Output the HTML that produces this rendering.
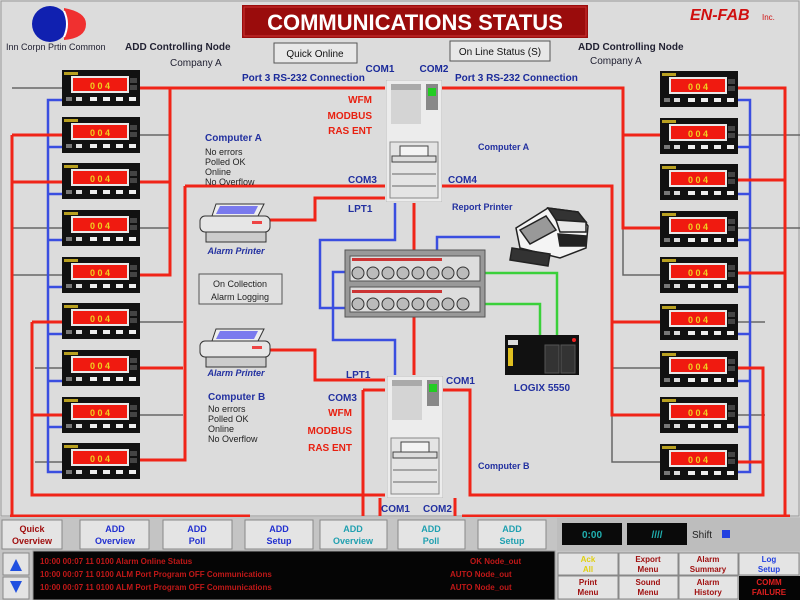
<!DOCTYPE html>
<html><head><meta charset="utf-8"><style>
html,body{margin:0;padding:0;background:#dcdcdc;}
svg{display:block;font-family:"Liberation Sans",sans-serif;}
</style></head><body>
<svg width="800" height="600" viewBox="0 0 800 600" xmlns="http://www.w3.org/2000/svg">
<defs>
<symbol id="dev" viewBox="0 0 78 36" width="78" height="36">
 <rect x="0" y="0" width="78" height="36" fill="#111"/>
 <rect x="2" y="2" width="14" height="3" fill="#b8a020"/>
 <rect x="9" y="6" width="58" height="17" fill="#e8e8e8"/>
 <rect x="11" y="8" width="54" height="13" fill="#f01a10"/>
 <rect x="68" y="8" width="7" height="5" fill="#444"/>
 <rect x="68" y="15" width="7" height="5" fill="#444"/>
 <rect x="4" y="27" width="6" height="4" fill="#777"/>
 <rect x="14" y="27" width="6" height="4" fill="#ddd"/>
 <rect x="28" y="27" width="7" height="4" fill="#eee"/>
 <rect x="41" y="27" width="7" height="4" fill="#eee"/>
 <rect x="54" y="27" width="7" height="4" fill="#eee"/>
 <rect x="67" y="27" width="7" height="4" fill="#eee"/>
</symbol>
<symbol id="srv" viewBox="0 0 56 122" width="56" height="122">
 <rect x="0" y="0" width="56" height="122" fill="#ececec" stroke="#bbb"/>
 <rect x="5" y="4" width="30" height="40" fill="#d4d4d4"/>
 <rect x="5" y="4" width="30" height="6" fill="#aaa"/>
 <rect x="40" y="4" width="12" height="26" fill="#888"/>
 <rect x="42" y="8" width="8" height="8" fill="#2c2"/>
 <rect x="4" y="62" width="48" height="56" fill="#e4e4e4" stroke="#888"/>
 <rect x="14" y="66" width="28" height="10" fill="#f4f4f4" stroke="#444"/>
 <rect x="6" y="76" width="44" height="6" fill="#ddd" stroke="#444"/>
 <line x1="6" y1="94" x2="50" y2="94" stroke="#666"/>
 <line x1="6" y1="106" x2="50" y2="106" stroke="#666"/>
</symbol>
<symbol id="prn" viewBox="0 0 74 48" width="74" height="48">
 <path d="M18 4 L66 4 L60 16 L14 16 Z" fill="#eee" stroke="#333"/>
 <path d="M22 6 L60 6 L56 14 L18 14 Z" fill="#7a7aee"/>
 <rect x="2" y="16" width="70" height="16" rx="5" fill="#e6e6e6" stroke="#333"/>
 <rect x="54" y="21" width="10" height="3" fill="#e44"/>
 <rect x="8" y="32" width="60" height="10" fill="#ccc" stroke="#333"/>
</symbol>
</defs>

<rect x="0" y="0" width="800" height="600" fill="#dcdcdc"/>
<rect x="1" y="1" width="798" height="515" fill="none" stroke="#999"/>

<!-- logo -->
<path d="M64 8 Q86 12 86 24 Q86 38 64 40 Z" fill="#f03030"/>
<circle cx="50" cy="24" r="18" fill="#1020b0"/>
<path d="M64 11 Q70 24 64 37" stroke="#fff" stroke-width="2" fill="none"/>
<text x="6" y="50" font-size="9" fill="#223">Inn Corpn Prtin Common</text>
<text x="125" y="50" font-size="10" font-weight="bold" fill="#223">ADD Controlling Node</text>
<text x="170" y="66" font-size="10" fill="#223">Company A</text>
<text x="578" y="50" font-size="10" font-weight="bold" fill="#223">ADD Controlling Node</text>
<text x="590" y="64" font-size="10" fill="#223">Company A</text>

<!-- title -->
<rect x="242" y="5" width="346" height="33" fill="#9a0c0c"/>
<rect x="244" y="7" width="342" height="29" fill="none" stroke="#c33"/>
<text x="415" y="30" font-size="22" font-weight="bold" fill="#fff" text-anchor="middle">COMMUNICATIONS STATUS</text>
<text x="690" y="20" font-size="16" font-weight="bold" font-style="italic" fill="#d01010">EN-FAB</text>
<text x="762" y="20" font-size="8" fill="#d01010">Inc.</text>

<rect x="274" y="43" width="83" height="20" fill="#e8e8e8" stroke="#555"/>
<text x="315" y="57" font-size="10" fill="#111" text-anchor="middle">Quick Online</text>
<rect x="450" y="41" width="100" height="20" fill="#e8e8e8" stroke="#555"/>
<text x="500" y="55" font-size="10" fill="#111" text-anchor="middle">On Line Status (S)</text>

<text x="380" y="72" font-size="10" font-weight="bold" fill="#1a2a9a" text-anchor="middle">COM1</text>
<text x="434" y="72" font-size="10" font-weight="bold" fill="#1a2a9a" text-anchor="middle">COM2</text>
<text x="242" y="81" font-size="10" font-weight="bold" fill="#1a2a9a">Port 3 RS-232 Connection</text>
<text x="455" y="81" font-size="10" font-weight="bold" fill="#1a2a9a">Port 3 RS-232 Connection</text>

<!-- gray wires -->
<g stroke="#666" stroke-width="1.5" fill="none">
 <path d="M62 88 H12 M62 228 H12 M62 275 H12"/>
 <path d="M139 135 H170 M139 228 H170"/>
 <path d="M139 322 H183 M139 415 H183 M62 368 H35 M62 462 H35"/>
 <path d="M623 228 V275 H660"/>
 <path d="M612 368 H660 M612 415 V462 H660"/>
 <path d="M738 135 H800 M738 228 H800 M738 322 H765 M738 415 H765"/>
</g>
<!-- blue -->
<g stroke="#3a4ee0" stroke-width="2.5" fill="none">
 <path d="M62 100 H48 V472 H62 M48 147 H62 M48 194 H62 M48 240 H62 M48 287 H62 M48 334 H62 M48 381 H62 M48 427 H62"/>
 <path d="M738 100 H750 V472 H738 M750 147 H738 M750 194 H738 M750 240 H738 M750 287 H738 M750 334 H738 M750 381 H738 M750 427 H738"/>
 <path d="M395 203 V240 H320 V308 H345"/>
 <path d="M345 272 H333 V340 H395 V375"/>
 <path d="M500 237 H437 V250"/>
</g>
<!-- green -->
<g stroke="#3ad03a" stroke-width="2.5" fill="none">
 <path d="M485 273 H557 V335"/>
 <path d="M485 304 H540 V335"/>
</g>
<!-- red -->
<g stroke="#f02418" stroke-width="3" fill="none">
 <path d="M139 88 H385"/>
 <path d="M170 88 V275 H139"/>
 <path d="M12 135 H62 M12 135 V516"/>
 <path d="M12 182 H62"/>
 <path d="M139 182 H170"/>
 <path d="M185 186 H385 M185 186 V460 H139 M183 368 H139"/>
 <path d="M32 322 H62 M32 322 V495 H385 M32 415 H62"/>
 <path d="M440 88 H623 V228 H660 M623 135 H660"/>
 <path d="M440 186 H612 V415 H660 M612 322 H660"/>
 <path d="M738 88 H785 V516 M738 180 H785 M738 273 H785"/>
 <path d="M442 390 H470 V495 H763 V368 H738 M763 462 H738"/>
 <path d="M270 220 H315 V198 H385"/>
 <path d="M270 350 H315 V380 H385"/>
 <path d="M414 203 V375"/>
 <path d="M363 390 H385 M363 390 V516"/>
 <path d="M380 498 V516 M455 498 V516"/>
 <path d="M462 516 H790"/>
 <path d="M10 516 H250"/>
</g>

<g>
 <use href="#dev" x="62" y="70"/><use href="#dev" x="62" y="117"/><use href="#dev" x="62" y="163"/>
 <use href="#dev" x="62" y="210"/><use href="#dev" x="62" y="257"/><use href="#dev" x="62" y="303"/>
 <use href="#dev" x="62" y="350"/><use href="#dev" x="62" y="397"/><use href="#dev" x="62" y="443"/>
 <use href="#dev" x="660" y="71"/><use href="#dev" x="660" y="118"/><use href="#dev" x="660" y="164"/>
 <use href="#dev" x="660" y="211"/><use href="#dev" x="660" y="257"/><use href="#dev" x="660" y="304"/>
 <use href="#dev" x="660" y="351"/><use href="#dev" x="660" y="397"/><use href="#dev" x="660" y="444"/>
</g>
<g font-size="9" font-weight="bold" fill="#f0d020" text-anchor="middle">
 <text x="100" y="89">0 0 4</text><text x="100" y="136">0 0 4</text><text x="100" y="182">0 0 4</text>
 <text x="100" y="229">0 0 4</text><text x="100" y="276">0 0 4</text><text x="100" y="322">0 0 4</text>
 <text x="100" y="369">0 0 4</text><text x="100" y="416">0 0 4</text><text x="100" y="462">0 0 4</text>
 <text x="698" y="90">0 0 4</text><text x="698" y="137">0 0 4</text><text x="698" y="183">0 0 4</text>
 <text x="698" y="230">0 0 4</text><text x="698" y="276">0 0 4</text><text x="698" y="323">0 0 4</text>
 <text x="698" y="370">0 0 4</text><text x="698" y="416">0 0 4</text><text x="698" y="463">0 0 4</text>
</g>

<use href="#srv" x="386" y="80"/>
<use href="#srv" x="387" y="376"/>

<!-- switch -->
<rect x="345" y="250" width="140" height="67" fill="#999" stroke="#555"/>
<rect x="350" y="256" width="130" height="25" fill="#ddd" stroke="#555"/>
<rect x="350" y="287" width="130" height="25" fill="#ddd" stroke="#555"/>
<g fill="#bbb" stroke="#333">
 <circle cx="358" cy="273" r="6"/><circle cx="373" cy="273" r="6"/><circle cx="388" cy="273" r="6"/><circle cx="403" cy="273" r="6"/><circle cx="418" cy="273" r="6"/><circle cx="433" cy="273" r="6"/><circle cx="448" cy="273" r="6"/><circle cx="463" cy="273" r="6"/>
 <circle cx="358" cy="304" r="6"/><circle cx="373" cy="304" r="6"/><circle cx="388" cy="304" r="6"/><circle cx="403" cy="304" r="6"/><circle cx="418" cy="304" r="6"/><circle cx="433" cy="304" r="6"/><circle cx="448" cy="304" r="6"/><circle cx="463" cy="304" r="6"/>
</g>
<rect x="352" y="258" width="90" height="3" fill="#c33"/>
<rect x="352" y="290" width="90" height="3" fill="#c33"/>

<use href="#prn" x="198" y="200"/>
<use href="#prn" x="198" y="325"/>
<text x="236" y="254" font-size="9" font-weight="bold" font-style="italic" fill="#2230a0" text-anchor="middle">Alarm Printer</text>
<text x="236" y="376" font-size="9" font-weight="bold" font-style="italic" fill="#2230a0" text-anchor="middle">Alarm Printer</text>
<rect x="199" y="274" width="83" height="30" fill="#e0e0e0" stroke="#555"/>
<text x="240" y="287" font-size="9" fill="#222" text-anchor="middle">On Collection</text>
<text x="240" y="300" font-size="9" fill="#222" text-anchor="middle">Alarm Logging</text>

<!-- report printer -->
<g stroke="#222" stroke-width="1.5">
 <path d="M516 228 L548 208 L578 212 L588 226 L586 248 L560 258 L520 248 Z" fill="#f4f4f4"/>
 <path d="M548 208 L578 212 L586 222 L556 220 Z" fill="#333"/>
 <path d="M556 220 L586 222 L586 232 L560 232 Z" fill="#e8e8e8"/>
 <path d="M558 234 L586 236 L586 246 L560 246 Z" fill="#222"/>
 <path d="M520 230 L546 216 L556 230 L530 244 Z" fill="#999"/>
 <path d="M512 248 L550 254 L548 266 L510 260 Z" fill="#333"/>
</g>
<text x="452" y="210" font-size="9" font-weight="bold" fill="#2230a0">Report Printer</text>

<!-- PLC -->
<rect x="505" y="335" width="74" height="40" fill="#111"/>
<rect x="508" y="340" width="10" height="5" fill="#ddd"/>
<rect x="508" y="348" width="5" height="18" fill="#e0c020"/>
<rect x="545" y="345" width="14" height="28" fill="#333" stroke="#555"/>
<rect x="561" y="345" width="14" height="28" fill="#333" stroke="#555"/>
<circle cx="574" cy="340" r="2" fill="#e22"/>
<text x="542" y="391" font-size="10" font-weight="bold" fill="#2230a0" text-anchor="middle">LOGIX 5550</text>

<g font-size="10" font-weight="bold">
 <text x="372" y="103" fill="#e82010" text-anchor="end">WFM</text>
 <text x="372" y="119" fill="#e82010" text-anchor="end">MODBUS</text>
 <text x="372" y="134" fill="#e82010" text-anchor="end">RAS ENT</text>
 <text x="205" y="141" fill="#2230a0">Computer A</text>
 <text x="205" y="155" fill="#222" font-weight="normal" font-size="9">No errors</text>
 <text x="205" y="165" fill="#222" font-weight="normal" font-size="9">Polled OK</text>
 <text x="205" y="175" fill="#222" font-weight="normal" font-size="9">Online</text>
 <text x="205" y="185" fill="#222" font-weight="normal" font-size="9">No Overflow</text>
 <text x="348" y="183" fill="#2230a0">COM3</text>
 <text x="448" y="183" fill="#2230a0">COM4</text>
 <text x="348" y="212" fill="#2230a0">LPT1</text>
 <text x="478" y="150" fill="#2230a0" font-size="9">Computer A</text>
 <text x="346" y="378" fill="#2230a0">LPT1</text>
 <text x="446" y="384" fill="#2230a0">COM1</text>
 <text x="328" y="401" fill="#2230a0">COM3</text>
 <text x="352" y="416" fill="#e82010" text-anchor="end">WFM</text>
 <text x="352" y="434" fill="#e82010" text-anchor="end">MODBUS</text>
 <text x="352" y="451" fill="#e82010" text-anchor="end">RAS ENT</text>
 <text x="208" y="400" fill="#2230a0">Computer B</text>
 <text x="208" y="412" fill="#222" font-weight="normal" font-size="9">No errors</text>
 <text x="208" y="422" fill="#222" font-weight="normal" font-size="9">Polled OK</text>
 <text x="208" y="432" fill="#222" font-weight="normal" font-size="9">Online</text>
 <text x="208" y="442" fill="#222" font-weight="normal" font-size="9">No Overflow</text>
 <text x="478" y="469" fill="#2230a0" font-size="9">Computer B</text>
 <text x="381" y="512" fill="#2230a0">COM1</text>
 <text x="423" y="512" fill="#2230a0">COM2</text>
</g>

<rect x="0" y="517" width="800" height="83" fill="#c4c4c4"/>
<g font-size="9" font-weight="bold" text-anchor="middle">
 <rect x="2" y="520" width="60" height="29" fill="#e4e4e4" stroke="#888"/>
 <text x="32" y="532" fill="#a01010">Quick</text><text x="32" y="544" fill="#a01010">Overview</text>
 <rect x="80" y="520" width="69" height="29" fill="#e4e4e4" stroke="#888"/>
 <text x="115" y="532" fill="#2230d0">ADD</text><text x="115" y="544" fill="#2230d0">Overview</text>
 <rect x="163" y="520" width="69" height="29" fill="#e4e4e4" stroke="#888"/>
 <text x="197" y="532" fill="#2230d0">ADD</text><text x="197" y="544" fill="#2230d0">Poll</text>
 <rect x="245" y="520" width="68" height="29" fill="#e4e4e4" stroke="#888"/>
 <text x="279" y="532" fill="#2230d0">ADD</text><text x="279" y="544" fill="#2230d0">Setup</text>
 <rect x="320" y="520" width="67" height="29" fill="#e4e4e4" stroke="#888"/>
 <text x="353" y="532" fill="#20a0b0">ADD</text><text x="353" y="544" fill="#20a0b0">Overview</text>
 <rect x="398" y="520" width="67" height="29" fill="#e4e4e4" stroke="#888"/>
 <text x="431" y="532" fill="#20a0b0">ADD</text><text x="431" y="544" fill="#20a0b0">Poll</text>
 <rect x="478" y="520" width="68" height="29" fill="#e4e4e4" stroke="#888"/>
 <text x="512" y="532" fill="#20a0b0">ADD</text><text x="512" y="544" fill="#20a0b0">Setup</text>
</g>
<rect x="557" y="518" width="243" height="33" fill="#bdbdbd"/>
<rect x="562" y="523" width="60" height="22" fill="#0a0a0a"/>
<text x="592" y="538" font-size="10" font-weight="bold" fill="#20b0b0" text-anchor="middle">0:00</text>
<rect x="627" y="523" width="60" height="22" fill="#0a0a0a"/>
<text x="657" y="538" font-size="10" font-weight="bold" fill="#20b0b0" text-anchor="middle">////</text>
<text x="692" y="538" font-size="10" fill="#222">Shift</text>
<rect x="722" y="530" width="8" height="8" fill="#2240e0"/>

<rect x="3" y="553" width="26" height="22" fill="#e4e4e4" stroke="#888"/>
<path d="M10 571 L16 559 L22 571Z" fill="#2050e0"/>
<rect x="3" y="577" width="26" height="22" fill="#e4e4e4" stroke="#888"/>
<path d="M10 581 L16 593 L22 581Z" fill="#2050e0"/>
<rect x="33" y="551" width="522" height="49" fill="#050505" stroke="#999"/>
<g font-size="8" font-weight="bold" fill="#c01818">
 <text x="40" y="564">10:00 00:07 11 0100 Alarm Online Status</text>
 <text x="40" y="577">10:00 00:07 11 0100 ALM Port Program OFF Communications</text>
 <text x="40" y="590">10:00 00:07 11 0100 ALM Port Program OFF Communications</text>
 <text x="470" y="564">OK Node_out</text>
 <text x="450" y="577">AUTO Node_out</text>
 <text x="450" y="590">AUTO Node_out</text>
</g>
<g font-size="8" font-weight="bold" text-anchor="middle">
 <rect x="558" y="553" width="60" height="22" fill="#e4e4e4" stroke="#888"/>
 <text x="588" y="562" fill="#e0d010">Ack</text><text x="588" y="572" fill="#e0d010">All</text>
 <rect x="619" y="553" width="59" height="22" fill="#e4e4e4" stroke="#888"/>
 <text x="648" y="562" fill="#a01010">Export</text><text x="648" y="572" fill="#a01010">Menu</text>
 <rect x="679" y="553" width="59" height="22" fill="#e4e4e4" stroke="#888"/>
 <text x="708" y="562" fill="#a01010">Alarm</text><text x="708" y="572" fill="#a01010">Summary</text>
 <rect x="739" y="553" width="60" height="22" fill="#e4e4e4" stroke="#888"/>
 <text x="769" y="562" fill="#2240e0">Log</text><text x="769" y="572" fill="#2240e0">Setup</text>
 <rect x="558" y="576" width="60" height="23" fill="#e4e4e4" stroke="#888"/>
 <text x="588" y="585" fill="#a01010">Print</text><text x="588" y="595" fill="#a01010">Menu</text>
 <rect x="619" y="576" width="59" height="23" fill="#e4e4e4" stroke="#888"/>
 <text x="648" y="585" fill="#a01010">Sound</text><text x="648" y="595" fill="#a01010">Menu</text>
 <rect x="679" y="576" width="59" height="23" fill="#e4e4e4" stroke="#888"/>
 <text x="708" y="585" fill="#a01010">Alarm</text><text x="708" y="595" fill="#a01010">History</text>
 <rect x="739" y="576" width="61" height="24" fill="#050505"/>
 <text x="769" y="585" fill="#e02020">COMM</text><text x="769" y="595" fill="#e02020">FAILURE</text>
</g>
</svg>
</body></html>
